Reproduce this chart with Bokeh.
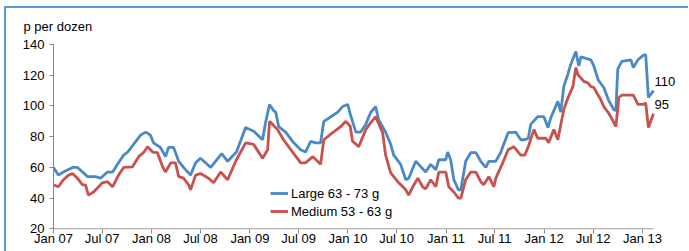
import pandas as pd
from bokeh.plotting import figure
from bokeh.models import FixedTicker, Legend, LegendItem, Range1d, Label
from bokeh.embed import file_html
from bokeh.resources import INLINE

# ---------------- data ----------------
large_dates = [
    "2007-01-01", "2007-01-19", "2007-02-07", "2007-03-13", "2007-03-31", "2007-04-19", "2007-05-08",
    "2007-06-06", "2007-06-25", "2007-07-21", "2007-08-09", "2007-08-31", "2007-09-19", "2007-10-04",
    "2007-10-26", "2007-11-21", "2007-12-10", "2007-12-28", "2008-01-08", "2008-02-03", "2008-02-22",
    "2008-03-04", "2008-03-23", "2008-04-11", "2008-04-29", "2008-05-25", "2008-06-13", "2008-07-01",
    "2008-07-20", "2008-08-08", "2008-08-26", "2008-09-18", "2008-10-10", "2008-11-12", "2008-11-27",
    "2008-12-16", "2009-01-15", "2009-02-17", "2009-02-28", "2009-03-15", "2009-03-30", "2009-04-07",
    "2009-04-18", "2009-05-14", "2009-06-13", "2009-07-09", "2009-07-27", "2009-08-15", "2009-09-03",
    "2009-09-21", "2009-10-03", "2009-10-21", "2009-11-24", "2009-12-12", "2009-12-31", "2010-01-09",
    "2010-01-30", "2010-02-17", "2010-03-08", "2010-03-26", "2010-04-14", "2010-04-25", "2010-05-21",
    "2010-06-09", "2010-06-20", "2010-07-16", "2010-08-04", "2010-08-15", "2010-09-10", "2010-09-21",
    "2010-10-17", "2010-11-05", "2010-11-24", "2010-12-05", "2010-12-31", "2011-01-07", "2011-01-18",
    "2011-01-30", "2011-02-16", "2011-02-25", "2011-03-15", "2011-04-03", "2011-04-22", "2011-05-10",
    "2011-05-29", "2011-06-09", "2011-07-05", "2011-07-24", "2011-07-31", "2011-08-20", "2011-09-17",
    "2011-10-06", "2011-10-21", "2011-11-03", "2011-11-12", "2011-12-08", "2011-12-31", "2012-01-15",
    "2012-01-26", "2012-02-21", "2012-03-03", "2012-03-14", "2012-03-29", "2012-04-09", "2012-04-28",
    "2012-05-09", "2012-05-17", "2012-06-23", "2012-07-04", "2012-07-20", "2012-08-10", "2012-08-27",
    "2012-09-16", "2012-09-24", "2012-10-01", "2012-10-16", "2012-11-19", "2012-11-28", "2012-12-15",
    "2013-01-04", "2013-01-13", "2013-01-23", "2013-02-11",
]
large_vals = [
    60, 55, 57, 60, 60, 57, 54,
    54, 53, 57, 57, 63, 68, 70,
    75, 81, 83, 81, 76, 73, 67,
    73, 73, 64, 60, 55, 63, 66,
    63, 60, 64, 69, 64, 70, 77,
    86, 83.5, 78, 89, 101, 97, 96,
    86.5, 83, 76, 71.5, 70, 77, 76,
    76, 90, 92, 96, 99.6, 101, 95,
    83, 83, 88, 95.6, 99.6, 91, 83,
    75, 68, 62, 52, 53, 64, 62,
    57, 62, 58.5, 65, 65, 70, 65,
    52, 45.4, 45.4, 64, 69.6, 69.6, 64,
    60, 64, 64, 70, 73.5, 82.6, 83,
    78, 78, 79, 88, 93, 93, 86,
    92.4, 103, 96, 112.6, 120.5, 127, 135.5,
    126, 132, 130, 126, 117, 112, 104,
    97.6, 97, 124, 129, 130, 125, 130,
    133, 133.5, 105.5, 110,
]

medium_dates = [
    "2007-01-01", "2007-01-19", "2007-02-07", "2007-02-26", "2007-03-13", "2007-03-31", "2007-04-19",
    "2007-04-30", "2007-05-11", "2007-05-30", "2007-06-18", "2007-07-02", "2007-07-21", "2007-08-09",
    "2007-08-31", "2007-09-19", "2007-10-22", "2007-11-14", "2007-12-02", "2007-12-17", "2008-01-05",
    "2008-01-23", "2008-02-11", "2008-02-22", "2008-03-12", "2008-03-30", "2008-04-11", "2008-04-29",
    "2008-05-18", "2008-05-25", "2008-06-13", "2008-07-01", "2008-07-31", "2008-08-19", "2008-09-14",
    "2008-10-10", "2008-11-09", "2008-12-16", "2009-01-15", "2009-02-17", "2009-03-08", "2009-03-15",
    "2009-04-14", "2009-05-06", "2009-06-09", "2009-07-09", "2009-07-27", "2009-08-23", "2009-09-10",
    "2009-09-21", "2009-10-03", "2009-11-05", "2009-12-05", "2009-12-23", "2010-01-09", "2010-01-18",
    "2010-02-10", "2010-03-08", "2010-03-26", "2010-04-14", "2010-05-10", "2010-05-21", "2010-06-09",
    "2010-07-09", "2010-08-04", "2010-08-15", "2010-08-30", "2010-09-18", "2010-10-06", "2010-10-17",
    "2010-11-05", "2010-11-24", "2010-12-05", "2010-12-31", "2011-01-11", "2011-01-30", "2011-02-16",
    "2011-02-25", "2011-03-15", "2011-04-03", "2011-04-22", "2011-05-10", "2011-05-21", "2011-06-09",
    "2011-06-28", "2011-07-05", "2011-07-31", "2011-08-20", "2011-09-10", "2011-10-06", "2011-10-21",
    "2011-11-03", "2011-11-24", "2011-12-08", "2012-01-07", "2012-01-18", "2012-02-06", "2012-02-21",
    "2012-03-14", "2012-03-29", "2012-04-17", "2012-04-28", "2012-05-05", "2012-05-28", "2012-06-12",
    "2012-06-23", "2012-07-04", "2012-07-20", "2012-07-30", "2012-08-10", "2012-08-27", "2012-09-05",
    "2012-09-24", "2012-10-05", "2012-10-16", "2012-11-28", "2012-12-15", "2013-01-04", "2013-01-13",
    "2013-01-23", "2013-02-11",
]
medium_vals = [
    48.7, 47.4, 52, 55, 56, 53, 48.7,
    48.7, 42, 44, 47.4, 50, 50.7, 47.4,
    55, 60, 60.4, 67, 69.6, 73.5, 70,
    69.6, 60.4, 57, 63, 63, 54, 53,
    48.7, 45.4, 55, 56, 53, 50, 57,
    52, 64, 76, 75, 66, 71.5, 90,
    84.6, 78, 70, 63, 63, 67, 64,
    62, 78, 82.6, 86.5, 90, 87, 77,
    73.5, 84.6, 89, 93, 82.6, 68, 56.5,
    50, 45.4, 42, 47.4, 53, 47.4, 46,
    52, 47.4, 57, 57, 47.4, 44, 40,
    40, 52, 57, 57, 50.7, 48.7, 54,
    47.4, 53, 63, 71.5, 73.5, 68, 68,
    73.5, 84.6, 79, 79, 76, 84.6, 78,
    97.6, 105, 112.6, 125, 120.5, 116, 115,
    112.6, 112, 107, 104, 99.6, 95.6, 93,
    86.5, 105.5, 107, 107, 101, 101, 102,
    86, 95,
]

series_names = ["Large 63 - 73 g", "Medium 53 - 63 g"]
x_tick_labels = ["Jan 07", "Jul 07", "Jan 08", "Jul 08", "Jan 09", "Jul 09", "Jan 10",
                 "Jul 10", "Jan 11", "Jul 11", "Jan 12", "Jul 12", "Jan 13"]
y_ticks = [20, 40, 60, 80, 100, 120, 140]
y_title = "p per dozen"

# ---------------- chart ----------------
FONT = "Liberation Sans"
BLUE = "#4A89C8"
RED = "#C8504D"
AXIS = "#868686"
FRAME = "#5B9BD5"

ld = pd.to_datetime(large_dates)
md = pd.to_datetime(medium_dates)
tick_dates = pd.to_datetime(x_tick_labels, format="%b %y")
tick_ms = [int(t.value // 10**6) for t in tick_dates]

# the plotting frame runs to the right edge so the end labels fit inside it;
# the visible x axis line stops at the last data date (600 of 636 px)
span = ld[-1] - ld[0]
x_end = ld[-1] + span * (36 / 600)

p = figure(width=689, height=251, x_axis_type="datetime",
           output_backend="svg", toolbar_location=None,
           x_range=Range1d(ld[0], x_end), y_range=Range1d(y_ticks[0] - 0.4, y_ticks[-1]),
           min_border_left=53, min_border_right=0, min_border_top=44, min_border_bottom=22)
p.background_fill_color = "white"
p.border_fill_color = None
p.outline_line_color = None
p.xgrid.grid_line_color = None
p.ygrid.grid_line_color = None
# outer chart frame: only its top and left edges are visible in the reference
p.styles = {
    "background-color": "white",
    "background-image": f"linear-gradient({FRAME}, {FRAME}), linear-gradient({FRAME}, {FRAME})",
    "background-position": "4px 6px, 4px 6px",
    "background-size": "2px 250px, 684px 2px",
    "background-repeat": "no-repeat, no-repeat",
}

p.title.text = y_title
p.title.align = "left"
p.title.offset = -30
p.title.standoff = 21
p.title.text_font = FONT
p.title.text_font_size = "13px"
p.title.text_font_style = "normal"
p.title.text_color = "#000000"

# x axis baseline from first to last date
p.segment(x0=[ld[0]], y0=[y_ticks[0]], x1=[ld[-1]], y1=[y_ticks[0]], line_color=AXIS, line_width=1)

r1 = p.line(ld, large_vals, line_color=BLUE, line_width=2.8)
r2 = p.line(md, medium_vals, line_color=RED, line_width=2.8)

for ax in (p.xaxis[0], p.yaxis[0]):
    ax.axis_line_color = AXIS
    ax.major_tick_line_color = AXIS
    ax.minor_tick_line_color = None
    ax.major_tick_in = 0
    ax.major_tick_out = 4
    ax.major_label_text_font = FONT
    ax.major_label_text_font_size = "13px"
    ax.major_label_text_color = "#000000"

p.xaxis.axis_line_color = None
p.xaxis.ticker = FixedTicker(ticks=tick_ms)
p.xaxis.major_label_overrides = {ms: lab for ms, lab in zip(tick_ms, x_tick_labels)}
p.xaxis.major_label_standoff = -3
p.yaxis.ticker = FixedTicker(ticks=y_ticks)
p.yaxis.major_label_standoff = 5

# end-value labels, just above the ends of the lines
for d, v in ((ld[-1], large_vals[-1]), (md[-1], medium_vals[-1])):
    p.add_layout(Label(x=d, y=v, text=f"{v:.0f}", x_offset=1, y_offset=9,
                       text_font=FONT, text_font_size="13px", text_baseline="middle",
                       text_align="left", text_color="#000000"))

legend = Legend(items=[LegendItem(label=series_names[0], renderers=[r1]),
                       LegendItem(label=series_names[1], renderers=[r2])],
                location=(215, 7), orientation="vertical",
                padding=2, spacing=0, margin=0,
                glyph_width=18, glyph_height=18, label_height=18, label_standoff=3,
                label_text_font=FONT, label_text_font_size="13px", label_text_color="#000000",
                background_fill_alpha=0, border_line_alpha=0)
p.add_layout(legend)

open("out.html", "w").write(file_html(p, INLINE))
